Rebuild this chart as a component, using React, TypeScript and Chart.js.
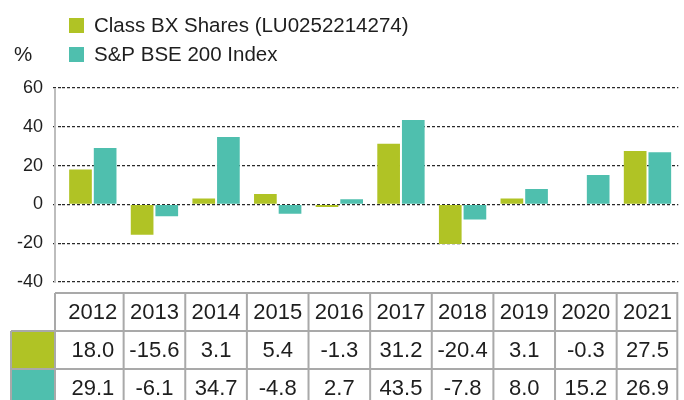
import { useEffect, useRef } from 'react';
import { Chart, registerables } from 'chart.js';

Chart.register(...registerables);

const years = ['2012', '2013', '2014', '2015', '2016', '2017', '2018', '2019', '2020', '2021'];
const classBX = [18.0, -15.6, 3.1, 5.4, -1.3, 31.2, -20.4, 3.1, -0.3, 27.5];
const bse200 = [29.1, -6.1, 34.7, -4.8, 2.7, 43.5, -7.8, 8.0, 15.2, 26.9];
const seriesNames = ['Class BX Shares (LU0252214274)', 'S&P BSE 200 Index'];
const yMin = -40;
const yMax = 60;
const yStep = 20;
const unitLabel = '%';

const GREEN = '#b0c325';
const TEAL = '#4fbfae';
const FONT = '"Liberation Sans", Arial, Helvetica, sans-serif';

const overlay = {
  id: 'overlay',
  afterDraw(chart: any) {
    const ctx = chart.ctx as CanvasRenderingContext2D;
    const { top, bottom, right } = chart.chartArea;
    const xs = chart.scales.x;
    ctx.save();

    // y axis line
    ctx.strokeStyle = '#bdbdbd';
    ctx.lineWidth = 2;
    ctx.beginPath();
    ctx.moveTo(55, top);
    ctx.lineTo(55, bottom);
    ctx.stroke();

    // data table borders and colour keys
    const rowH = 38;
    const t0 = bottom + 11;
    const bounds: number[] = [55];
    for (let i = 1; i < years.length; i++) {
      bounds.push((xs.getPixelForValue(i - 1) + xs.getPixelForValue(i)) / 2);
    }
    bounds.push(right - 1);
    [GREEN, TEAL].forEach((c, k) => {
      ctx.fillStyle = c;
      ctx.fillRect(11, t0 + rowH * (k + 1), 44, rowH);
    });
    ctx.strokeStyle = '#a9a9a9';
    ctx.lineWidth = 2;
    ctx.beginPath();
    for (let r = 0; r <= 3; r++) {
      const yy = t0 + r * rowH;
      ctx.moveTo(r === 0 ? 55 : 11, yy);
      ctx.lineTo(right, yy);
    }
    bounds.forEach((bx) => {
      ctx.moveTo(bx, t0);
      ctx.lineTo(bx, t0 + 3 * rowH);
    });
    ctx.moveTo(11, t0 + rowH);
    ctx.lineTo(11, t0 + 3 * rowH);
    ctx.stroke();

    // legend
    ctx.font = `20.5px ${FONT}`;
    ctx.textBaseline = 'middle';
    ctx.textAlign = 'left';
    ctx.fillStyle = GREEN;
    ctx.fillRect(69, 18, 15, 15);
    ctx.fillStyle = TEAL;
    ctx.fillRect(69, 47, 15, 15);
    ctx.fillStyle = '#1e1e1e';
    ctx.fillText(seriesNames[0], 94, 26);
    ctx.fillText(seriesNames[1], 94, 55);
    ctx.fillText(unitLabel, 14, 55);

    ctx.restore();
  },
};

export default function App() {
  const ref = useRef<HTMLCanvasElement>(null);

  useEffect(() => {
    document.body.style.margin = '0';
    const canvas = ref.current;
    if (!canvas) return;
    const labels = years.map((y, i) => [y, classBX[i].toFixed(1), bse200[i].toFixed(1)]);
    const chart = new Chart(canvas, {
      type: 'bar',
      data: {
        labels,
        datasets: [
          { label: seriesNames[0], data: classBX, backgroundColor: GREEN, borderWidth: 0, categoryPercentage: 0.8, barPercentage: 0.92 },
          { label: seriesNames[1], data: bse200, backgroundColor: TEAL, borderWidth: 0, categoryPercentage: 0.8, barPercentage: 0.92 },
        ],
      },
      options: {
        responsive: false,
        animation: false,
        layout: { padding: { top: 88, right: 1, left: 0, bottom: 0 } },
        plugins: { legend: { display: false }, tooltip: { enabled: false } },
        scales: {
          x: {
            grid: { display: false, drawTicks: false },
            border: { display: false },
            ticks: {
              font: { family: FONT, size: 22, lineHeight: '38px' },
              color: '#1e1e1e',
              padding: 12,
              maxRotation: 0,
              autoSkip: false,
            },
            afterFit: (scale: any) => {
              scale.height = 118;
            },
          },
          y: {
            min: yMin,
            max: yMax,
            grid: {
              color: '#2a2a2a',
              lineWidth: 1.2,
              tickLength: 9,
              tickColor: '#2a2a2a',
              tickBorderDash: [3, 2],
            },
            border: { display: false, dash: [3, 2] },
            ticks: {
              stepSize: yStep,
              font: { family: FONT, size: 18 },
              color: '#1e1e1e',
              padding: 10,
            },
            afterFit: (scale: any) => {
              scale.width = 62;
            },
          },
        },
      },
      plugins: [overlay],
    });
    return () => chart.destroy();
  }, []);

  return (
    <div style={{ width: 684, height: 400, background: '#fff' }}>
      <canvas ref={ref} width={684} height={400} style={{ display: 'block' }} />
    </div>
  );
}
